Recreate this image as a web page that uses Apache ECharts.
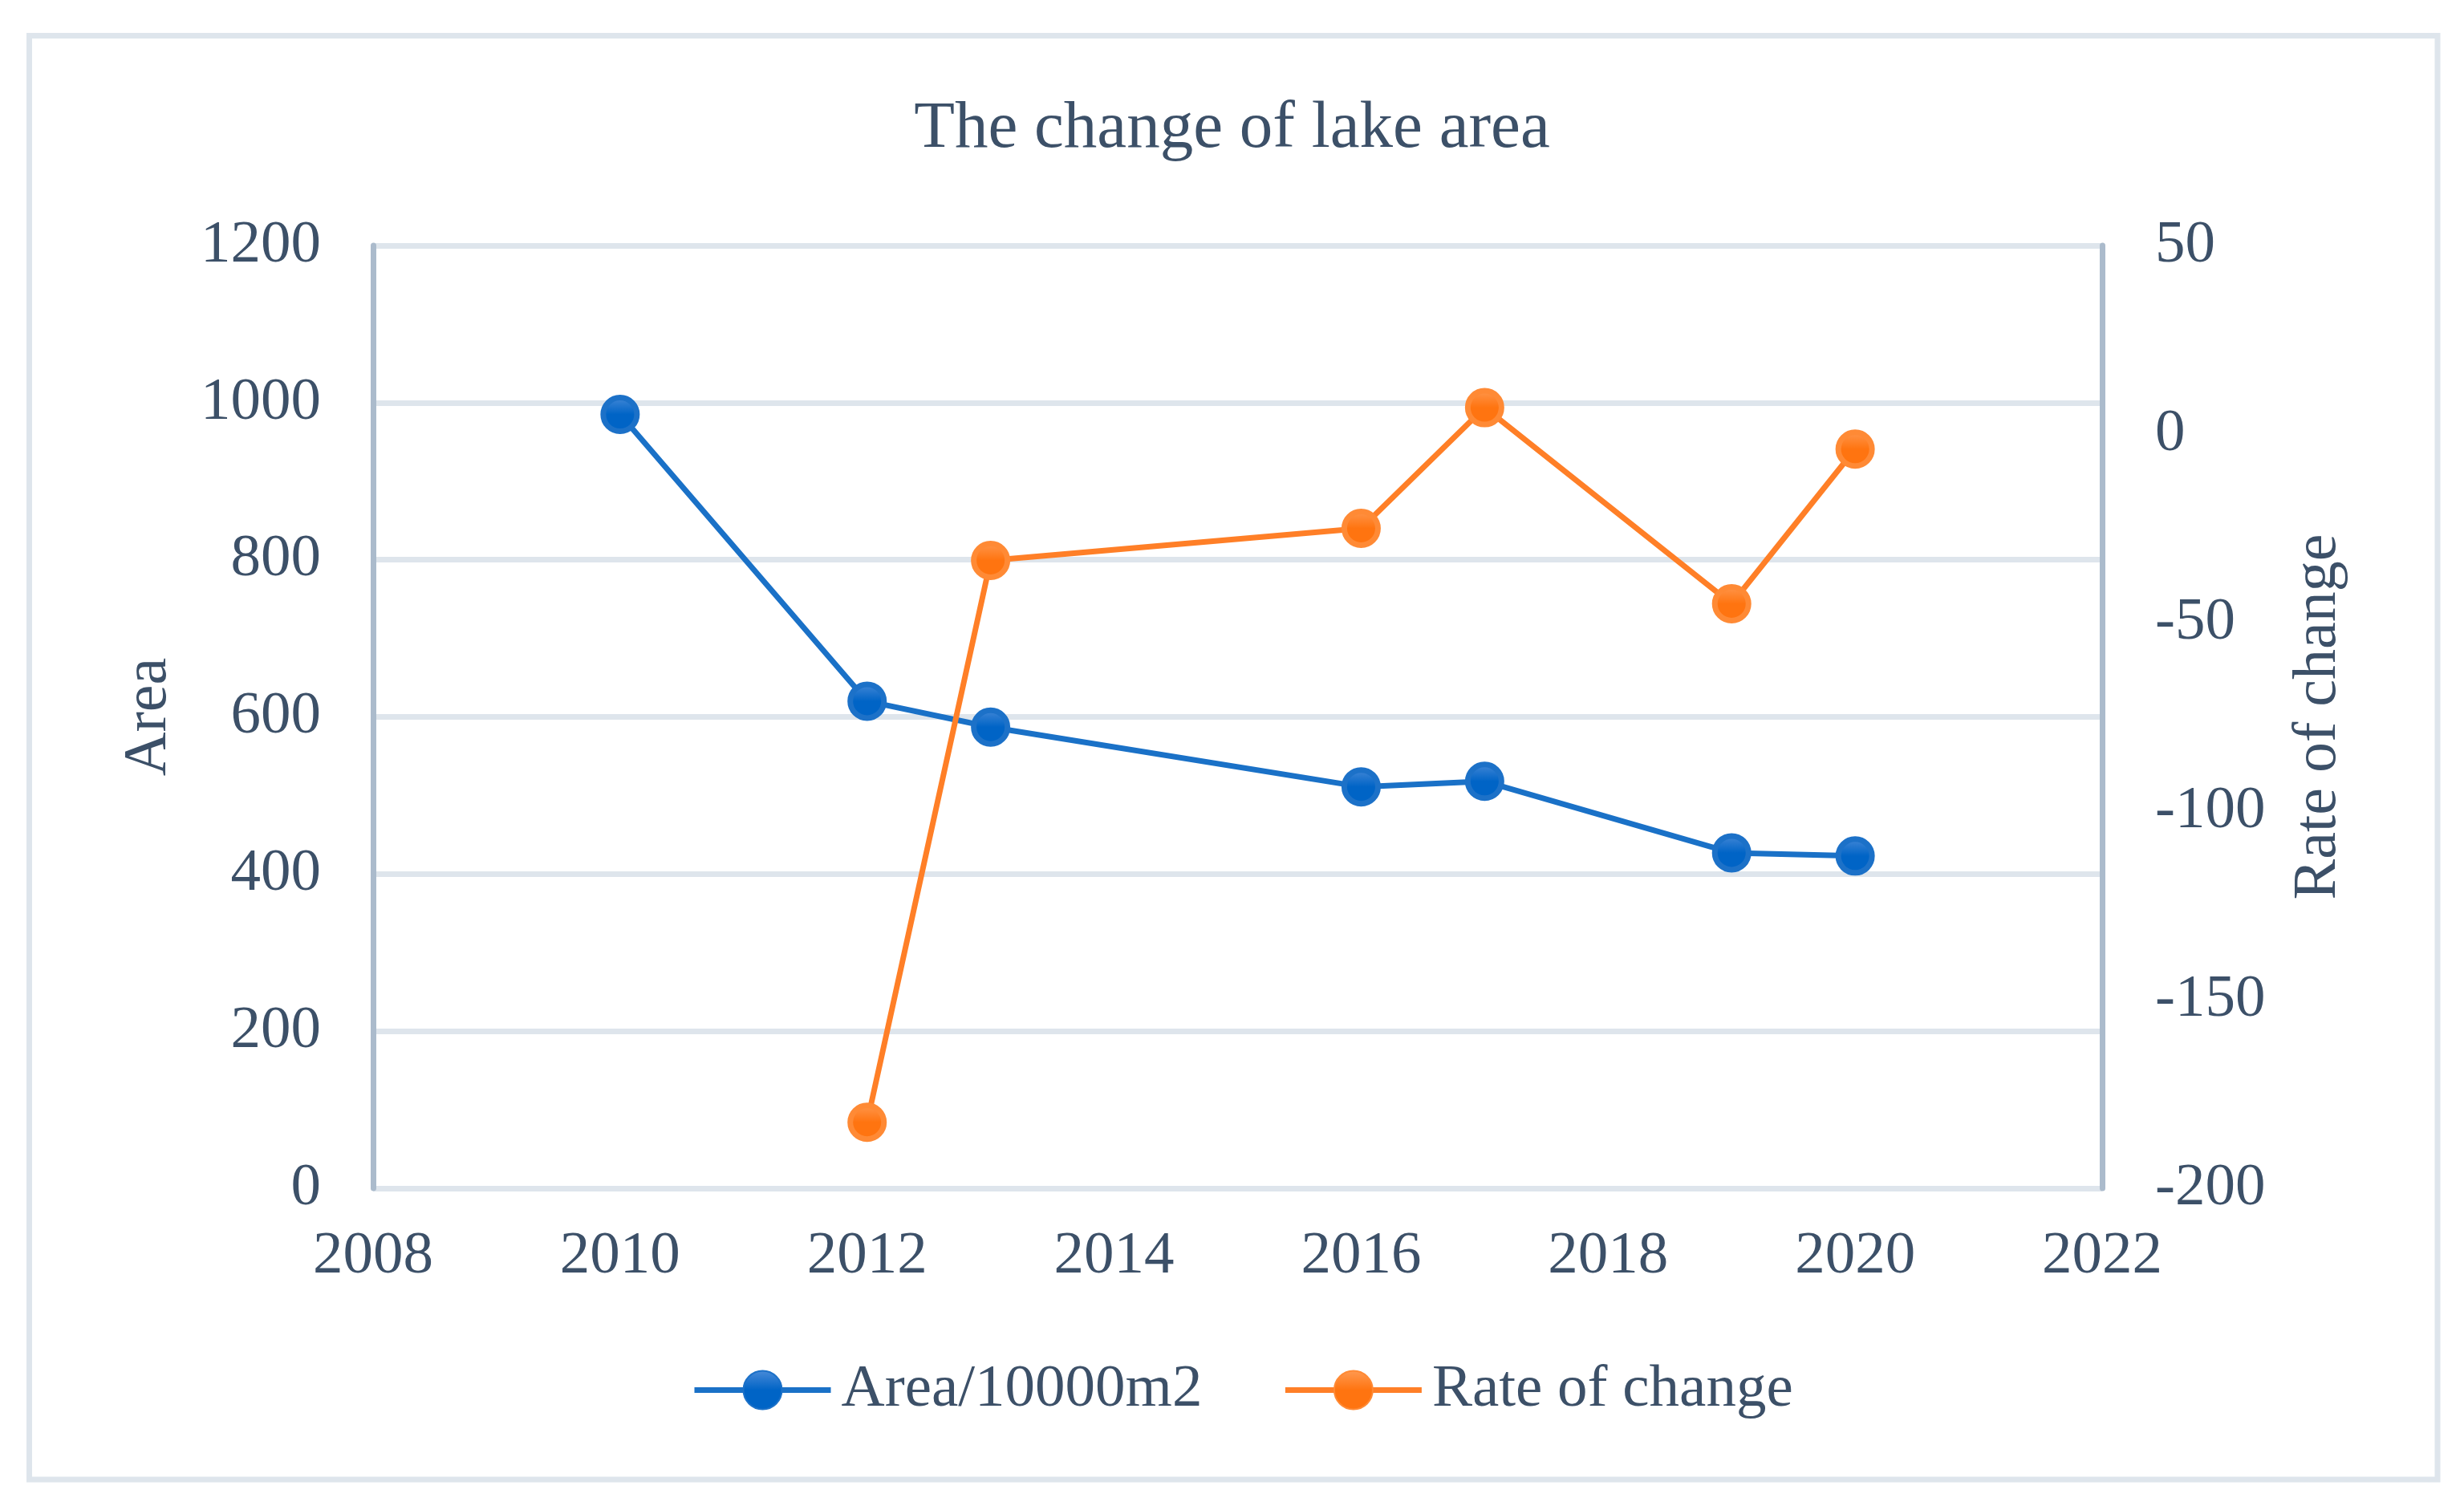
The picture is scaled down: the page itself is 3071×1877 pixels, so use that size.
<!DOCTYPE html>
<html>
<head>
<meta charset="utf-8">
<script src="https://cdn.jsdelivr.net/npm/echarts@6/dist/echarts.min.js"></script>
<style>
  html, body { margin: 0; padding: 0; background: #ffffff; }
  #chart { width: 3071px; height: 1877px; }
</style>
</head>
<body>
<div id="chart"></div>
<script>
// ---- data ----
const years = [2010, 2012, 2013, 2016, 2017, 2019, 2020];
const areaValues = [985, 620, 587, 511, 518, 427, 423];
const rateYears = [2012, 2013, 2016, 2017, 2019, 2020];
const rateValues = [-182.5, -33.5, -25, 7, -45, -4];
const xTicks = [2008, 2022, 2];       // min, max, step
const leftTicks = [0, 1200, 200];
const rightTicks = [-200, 50, 50];
const titleText = 'The change of lake area';
const seriesNames = ['Area/10000m2', 'Rate of change'];
const axisNames = ['Area', 'Rate of change'];

const FONT = "'Liberation Serif', 'Times New Roman', serif";
const TXT = '#3C5068';

const areaData = years.map((y, i) => [y, areaValues[i]]);
const rateData = rateYears.map((y, i) => [y, rateValues[i]]);
const plain = v => String(v);

function grad(top, bottom) {
  return new echarts.graphic.LinearGradient(0, 0, 0, 1, [
    { offset: 0, color: top },
    { offset: 0.5, color: bottom },
    { offset: 1, color: bottom }
  ]);
}

const chart = echarts.init(document.getElementById('chart'), null, { renderer: 'canvas' });
chart.setOption({
  backgroundColor: '#ffffff',
  animation: false,
  graphic: [{
    type: 'rect',
    shape: { x: 36.5, y: 44.5, width: 3001.5, height: 1799.5 },
    style: { fill: 'none', stroke: '#DEE5EC', lineWidth: 7 },
    z: -10
  }],
  title: {
    text: titleText,
    left: 'center',
    top: 115,
    textStyle: { fontFamily: FONT, fontSize: 83, fontWeight: 'normal', color: TXT }
  },
  legend: {
    left: 857,
    top: 1690,
    itemWidth: 170,
    itemHeight: 60,
    itemGap: 100,
    selectedMode: false,
    lineStyle: { width: 7 },
    textStyle: { fontFamily: FONT, fontSize: 75, color: TXT, padding: [0, 0, 0, 8] },
    data: seriesNames
  },
  grid: { left: 465, right: 451, top: 306, bottom: 396, containLabel: false },
  xAxis: {
    type: 'value',
    min: xTicks[0], max: xTicks[1], interval: xTicks[2],
    axisLine: { show: false },
    axisTick: { show: false },
    splitLine: { show: false },
    axisLabel: { fontFamily: FONT, fontSize: 75, color: TXT, margin: 48, formatter: plain }
  },
  yAxis: [{
    type: 'value',
    min: leftTicks[0], max: leftTicks[1], interval: leftTicks[2],
    name: axisNames[0],
    nameLocation: 'middle',
    nameRotate: 90,
    nameGap: 241,
    nameTextStyle: { fontFamily: FONT, fontSize: 76, color: TXT },
    axisLine: { show: true, lineStyle: { color: '#ABBBCC', width: 7 } },
    axisTick: { show: false },
    splitLine: { show: true, lineStyle: { color: '#DEE5EC', width: 7 } },
    axisLabel: { fontFamily: FONT, fontSize: 75, color: TXT, margin: 65, formatter: plain }
  }, {
    type: 'value',
    position: 'right',
    min: rightTicks[0], max: rightTicks[1], interval: rightTicks[2],
    name: axisNames[1],
    nameLocation: 'middle',
    nameRotate: 90,
    nameGap: 232,
    nameTextStyle: { fontFamily: FONT, fontSize: 76, color: TXT },
    axisLine: { show: true, lineStyle: { color: '#ABBBCC', width: 7 } },
    axisTick: { show: false },
    splitLine: { show: false },
    axisLabel: { fontFamily: FONT, fontSize: 75, color: TXT, margin: 66, formatter: plain }
  }],
  series: [{
    name: seriesNames[0],
    type: 'line',
    yAxisIndex: 0,
    data: areaData,
    symbol: 'circle',
    symbolSize: 42,
    lineStyle: { color: '#1A71C7', width: 7 },
    itemStyle: { color: grad('#4A8BD8', '#0064C6'), borderColor: '#1C71C8', borderWidth: 7 },
    z: 2
  }, {
    name: seriesNames[1],
    type: 'line',
    yAxisIndex: 1,
    data: rateData,
    symbol: 'circle',
    symbolSize: 42,
    lineStyle: { color: '#FF7F27', width: 7 },
    itemStyle: { color: grad('#FF9A52', '#FF7410'), borderColor: '#FF8A35', borderWidth: 7 },
    z: 3
  }]
});
</script>
</body>
</html>
